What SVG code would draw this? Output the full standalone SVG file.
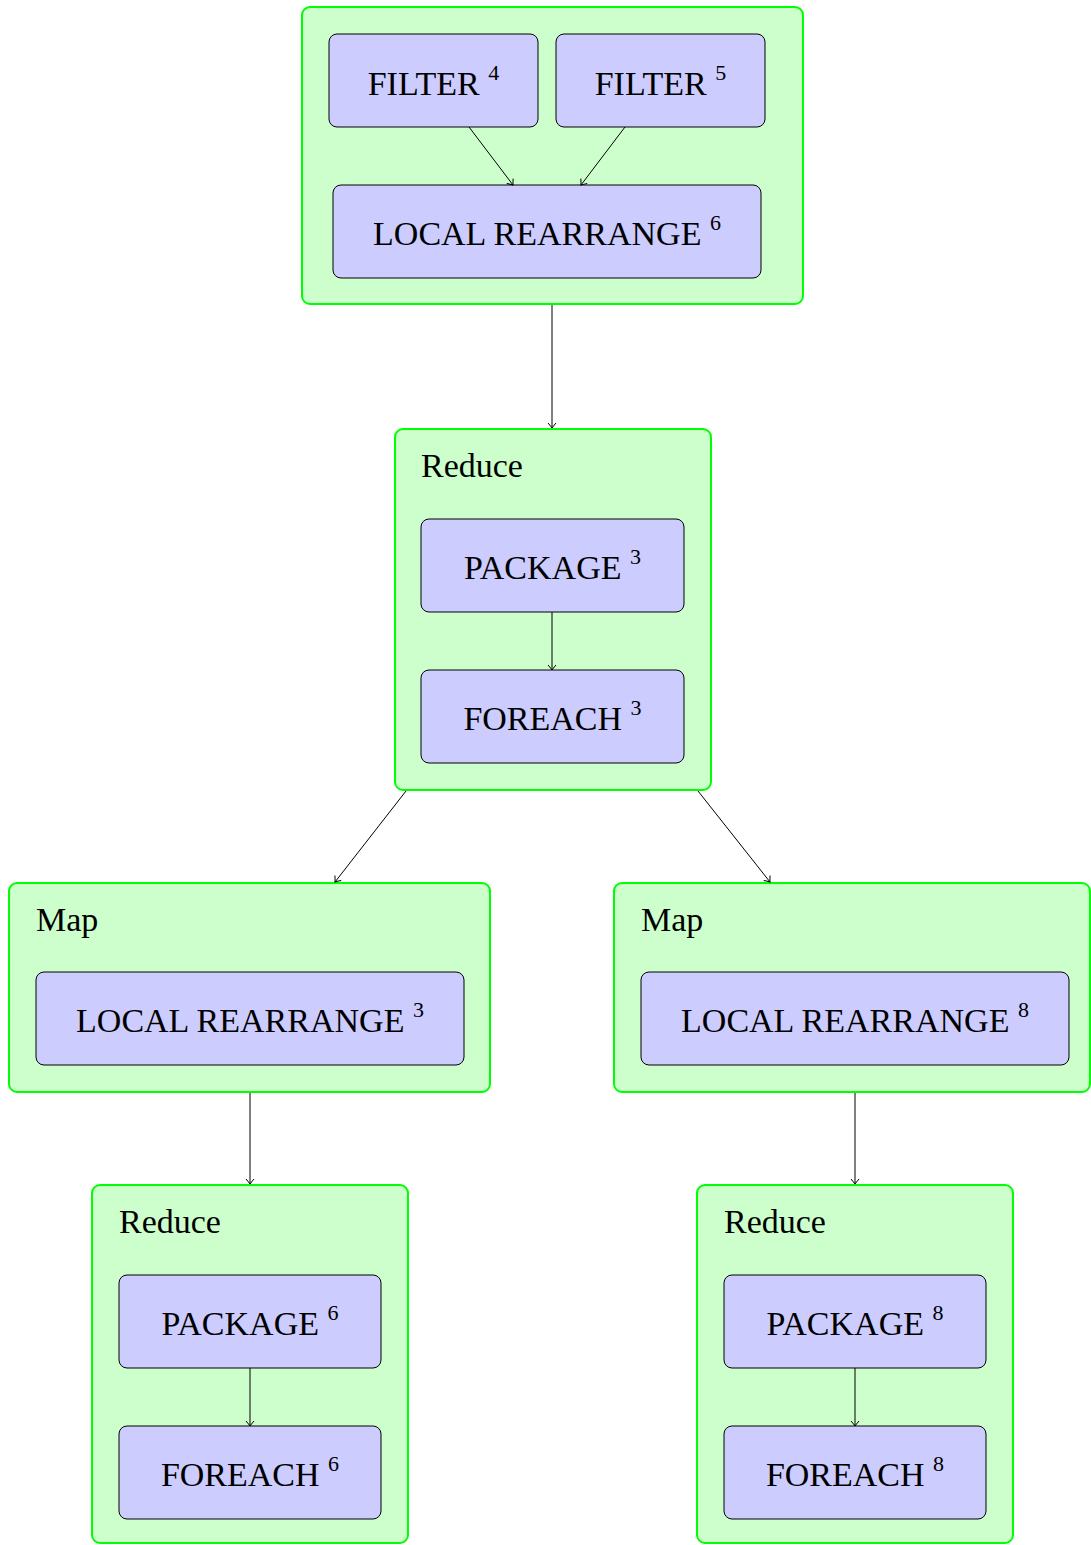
<svg xmlns="http://www.w3.org/2000/svg" width="1091" height="1545" viewBox="0 0 1091 1545">
  <style>
    .cluster { fill: #ccffcc; stroke: #00ff00; stroke-width: 2; }
    .op { fill: #ccccff; stroke: #000000; stroke-width: 1; }
    .lbl { font-family: "Liberation Serif", "DejaVu Serif", serif; font-size: 34px; fill: #000000; }
    .op-text { text-anchor: middle; }
    .sup { font-size: 22px; }
    .edge { fill: none; stroke: #000000; stroke-width: 1; marker-end: url(#to); }
  </style>
  <defs>
    <marker id="to" viewBox="-6 -5 8 10" markerWidth="8" markerHeight="10" refX="0" refY="0" orient="auto" markerUnits="userSpaceOnUse">
      <path d="M -5 -4 Q -1.5 -1 0 0 Q -1.5 1 -5 4" fill="none" stroke="#000000" stroke-width="1"/>
    </marker>
  </defs>

  <!-- map stage: two filters feeding a local rearrange -->
  <g id="stage-map-0">
    <rect class="cluster" x="302" y="7" width="501" height="297" rx="8"/>
  </g>
  <g id="filter-4">
    <rect class="op" x="329" y="34" width="209" height="93" rx="8"/>
    <text class="lbl op-text" x="433.5" y="95">FILTER <tspan class="sup" dy="-15">4</tspan></text>
  </g>
  <g id="filter-5">
    <rect class="op" x="556" y="34" width="209" height="93" rx="8"/>
    <text class="lbl op-text" x="660.5" y="95">FILTER <tspan class="sup" dy="-15">5</tspan></text>
  </g>
  <g id="local-rearrange-6">
    <rect class="op" x="333" y="185" width="428" height="93" rx="8"/>
    <text class="lbl op-text" x="547" y="245">LOCAL REARRANGE <tspan class="sup" dy="-15">6</tspan></text>
  </g>

  <!-- reduce stage 1 -->
  <g id="stage-reduce-1">
    <rect class="cluster" x="395" y="429" width="316" height="361" rx="8"/>
    <text class="lbl" x="421" y="477">Reduce</text>
  </g>
  <g id="package-3">
    <rect class="op" x="421" y="519" width="263" height="93" rx="8"/>
    <text class="lbl op-text" x="552.5" y="579">PACKAGE <tspan class="sup" dy="-15">3</tspan></text>
  </g>
  <g id="foreach-3">
    <rect class="op" x="421" y="670" width="263" height="93" rx="8"/>
    <text class="lbl op-text" x="552.5" y="730">FOREACH <tspan class="sup" dy="-15">3</tspan></text>
  </g>

  <!-- map stages 2 -->
  <g id="stage-map-left">
    <rect class="cluster" x="9" y="883" width="481" height="209" rx="8"/>
    <text class="lbl" x="36" y="931">Map</text>
  </g>
  <g id="local-rearrange-3">
    <rect class="op" x="36" y="972" width="428" height="93" rx="8"/>
    <text class="lbl op-text" x="250" y="1032">LOCAL REARRANGE <tspan class="sup" dy="-15">3</tspan></text>
  </g>
  <g id="stage-map-right">
    <rect class="cluster" x="614" y="883" width="476" height="209" rx="8"/>
    <text class="lbl" x="641" y="931">Map</text>
  </g>
  <g id="local-rearrange-8">
    <rect class="op" x="641" y="972" width="428" height="93" rx="8"/>
    <text class="lbl op-text" x="855" y="1032">LOCAL REARRANGE <tspan class="sup" dy="-15">8</tspan></text>
  </g>

  <!-- reduce stages 3 -->
  <g id="stage-reduce-left">
    <rect class="cluster" x="92" y="1185" width="316" height="358" rx="8"/>
    <text class="lbl" x="119" y="1233">Reduce</text>
  </g>
  <g id="package-6">
    <rect class="op" x="119" y="1275" width="262" height="93" rx="8"/>
    <text class="lbl op-text" x="250" y="1335">PACKAGE <tspan class="sup" dy="-15">6</tspan></text>
  </g>
  <g id="foreach-6">
    <rect class="op" x="119" y="1426" width="262" height="93" rx="8"/>
    <text class="lbl op-text" x="250" y="1486">FOREACH <tspan class="sup" dy="-15">6</tspan></text>
  </g>
  <g id="stage-reduce-right">
    <rect class="cluster" x="697" y="1185" width="316" height="358" rx="8"/>
    <text class="lbl" x="724" y="1233">Reduce</text>
  </g>
  <g id="package-8">
    <rect class="op" x="724" y="1275" width="262" height="93" rx="8"/>
    <text class="lbl op-text" x="855" y="1335">PACKAGE <tspan class="sup" dy="-15">8</tspan></text>
  </g>
  <g id="foreach-8">
    <rect class="op" x="724" y="1426" width="262" height="93" rx="8"/>
    <text class="lbl op-text" x="855" y="1486">FOREACH <tspan class="sup" dy="-15">8</tspan></text>
  </g>

  <!-- connectors -->
  <g id="edges">
    <line class="edge" x1="469" y1="127" x2="513" y2="185"/>
    <line class="edge" x1="625" y1="127" x2="581" y2="185"/>
    <line class="edge" x1="552" y1="305" x2="552" y2="428"/>
    <line class="edge" x1="552" y1="612" x2="552" y2="670"/>
    <line class="edge" x1="406" y1="791" x2="335" y2="882"/>
    <line class="edge" x1="698" y1="791" x2="770" y2="882"/>
    <line class="edge" x1="250" y1="1093" x2="250" y2="1184"/>
    <line class="edge" x1="855" y1="1093" x2="855" y2="1184"/>
    <line class="edge" x1="250" y1="1368" x2="250" y2="1426"/>
    <line class="edge" x1="855" y1="1368" x2="855" y2="1426"/>
  </g>
</svg>
